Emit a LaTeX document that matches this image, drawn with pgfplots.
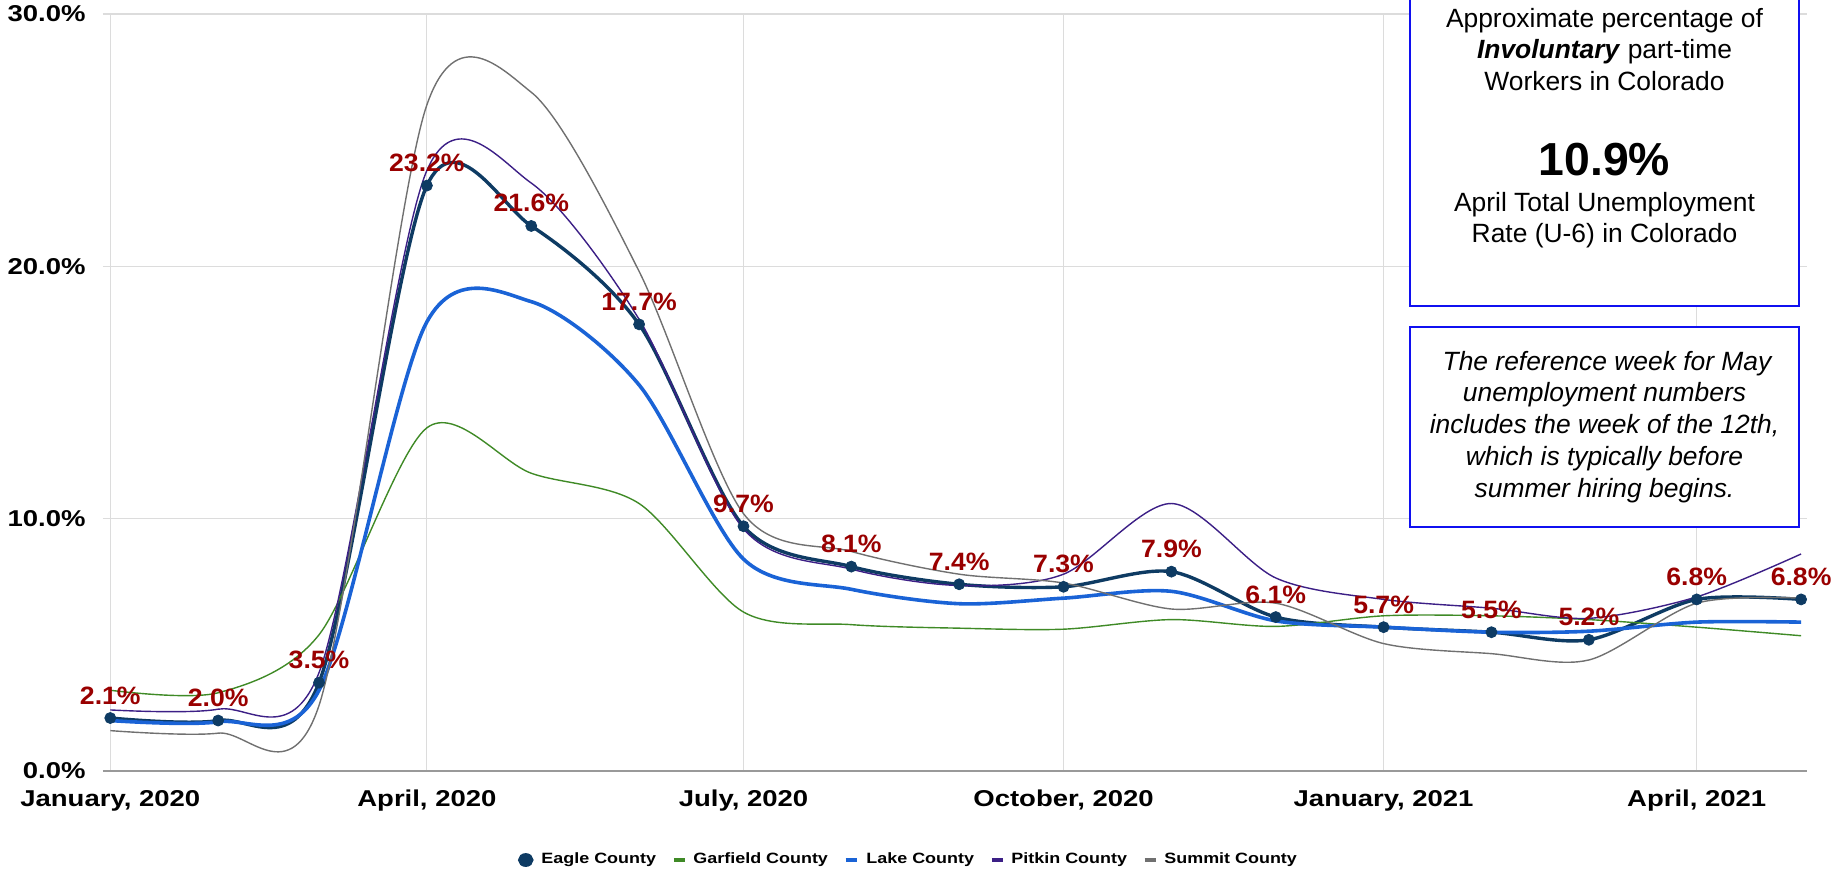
\documentclass[border=0pt]{standalone}
\usepackage{fontspec}
\setmainfont{Liberation Sans}
\newfontfamily\tickfont[FakeStretch=1.2]{Liberation Sans}
\newfontfamily\labfont[FakeStretch=1.06]{Liberation Sans}
\usepackage{pgfplots}
\pgfplotsset{compat=1.18}
\usepackage{pgfplotstable}

\definecolor{eaglec}{HTML}{0E3B63}
\definecolor{garfieldc}{HTML}{3F8A26}
\definecolor{lakec}{HTML}{1A63D6}
\definecolor{pitkinc}{HTML}{3C1F86}
\definecolor{summitc}{HTML}{707070}
\definecolor{labelc}{HTML}{990000}
\definecolor{boxc}{HTML}{1010F0}
\definecolor{gridc}{HTML}{DCDCDC}
\definecolor{axisgray}{HTML}{999999}

\pgfplotstableread{
day eagle garfield lake pitkin summit lab
0   2.1  3.2  2.0  2.42 1.6  2.1
31  2.0  3.1  1.95 2.45 1.5  2.0
60  3.5  5.4  3.2  3.9  2.6  3.5
91  23.2 13.6 17.8 23.8 26.4 23.2
121 21.6 11.8 18.6 23.3 26.9 21.6
152 17.7 10.6 15.3 17.9 19.8 17.7
182 9.7  6.3  8.4  9.6  10.2 9.7
213 8.1  5.8  7.2  8.0  8.7  8.1
244 7.4  5.66 6.63 7.35 7.8  7.4
274 7.3  5.62 6.85 7.8  7.45 7.3
305 7.9  6.0  7.12 10.6 6.42 7.9
335 6.1  5.73 5.95 7.65 6.65 6.1
366 5.7  6.15 5.7  6.8  5.05 5.7
397 5.5  6.15 5.5  6.45 4.65 5.5
425 5.2  6.0  5.54 6.05 4.4  5.2
456 6.8  5.7  5.9  6.9  6.65 6.8
486 6.8  5.36 5.9  8.6  6.85 6.8
}\data

\begin{document}
\begin{tikzpicture}
\useasboundingbox (-51.5bp,-50bp) rectangle (868.5bp,385.5bp);
\begin{axis}[
  at={(0,0)}, anchor=south west,
  scale only axis, width=852bp, height=378.5bp,
  xmin=-2.1, xmax=487.7, ymin=0, ymax=30,
  clip=false,
  axis x line*=bottom, axis y line*=left,
  x axis line style={-, draw=axisgray, line width=1.1bp},
  y axis line style={draw=none},
  major tick length=0pt,
  xtick={0,91,182,274,366,456},
  xticklabels={{January, 2020},{April, 2020},{July, 2020},{October, 2020},{January, 2021},{April, 2021}},
  ytick={0,10,20,30},
  yticklabels={0.0\%,10.0\%,20.0\%,30.0\%},
  xmajorgrids, ymajorgrids,
  grid style={draw=gridc, line width=0.6bp},
  tick label style={font=\tickfont\fontsize{11.5}{13}\selectfont\bfseries, text=black},
  xticklabel style={anchor=base, yshift=-17.9bp},
  yticklabel style={anchor=east, inner sep=0pt, xshift=-8.5bp},
  legend columns=5,
  legend style={at={(0.473,-0.1176)}, anchor=center, draw=none, fill=none,
    font=\tickfont\fontsize{7.5}{9}\selectfont\bfseries,
    nodes={inner sep=1.5bp},
    /tikz/every even column/.append style={column sep=6.5bp}},
]
\addplot[eaglec, line width=1.7bp, smooth, no markers,
  legend image code/.code={\fill[eaglec] (3bp,0bp) ellipse (3bp and 2.6bp); \path (8.5bp,0bp);}]
  table[x=day,y=eagle]{\data};
\addplot[garfieldc, line width=0.7bp, smooth, no markers,
  legend image code/.code={\draw[garfieldc, line width=1.7bp] (0bp,0bp) -- (5.8bp,0bp); \path (8bp,0bp);}]
  table[x=day,y=garfield]{\data};
\addplot[lakec, line width=1.8bp, smooth, no markers,
  legend image code/.code={\draw[lakec, line width=1.7bp] (0bp,0bp) -- (5.8bp,0bp); \path (8bp,0bp);}]
  table[x=day,y=lake]{\data};
\addplot[pitkinc, line width=0.7bp, smooth, no markers,
  legend image code/.code={\draw[pitkinc, line width=1.7bp] (0bp,0bp) -- (5.8bp,0bp); \path (8bp,0bp);}]
  table[x=day,y=pitkin]{\data};
\addplot[summitc, line width=0.7bp, smooth, no markers,
  legend image code/.code={\draw[summitc, line width=1.7bp] (0bp,0bp) -- (5.8bp,0bp); \path (8bp,0bp);}]
  table[x=day,y=summit]{\data};
\legend{Eagle County, Garfield County, Lake County, Pitkin County, Summit County}
\addplot[forget plot, only marks, mark=*, mark size=2.75bp,
  mark options={fill=eaglec, draw=eaglec},
  point meta=explicit symbolic,
  nodes near coords={\pgfplotspointmeta\%},
  nodes near coords style={anchor=base, yshift=7bp, inner sep=0pt,
    font=\labfont\fontsize{12.6}{14}\selectfont\bfseries, text=labelc}]
  table[x=day, y=eagle, meta=lab]{\data};
\end{axis}

\draw[boxc, line width=0.9bp, fill=white] (653.5bp,232.5bp) rectangle (848bp,392bp);
\begin{scope}[every node/.style={anchor=base, inner sep=0pt, font=\fontsize{13.25}{15}\selectfont}]
\node at (750.75bp,371.6bp) {Approximate percentage of};
\node at (750.75bp,356bp) {\textbf{\textit{Involuntary}} part-time};
\node at (750.75bp,340.3bp) {Workers in Colorado};
\node[font=\fontsize{23.25}{26}\selectfont\bfseries] at (750.75bp,297.6bp) {10.9\%};
\node at (750.75bp,279.8bp) {April Total Unemployment};
\node at (750.75bp,264.1bp) {Rate (U-6) in Colorado};
\end{scope}

\draw[boxc, line width=0.9bp, fill=white] (653.5bp,122bp) rectangle (848bp,222bp);
\begin{scope}[every node/.style={anchor=base, inner sep=0pt, font=\fontsize{13.25}{15}\selectfont\itshape}]
\node at (752bp,200.3bp) {The reference week for May};
\node at (750.75bp,184.6bp) {unemployment numbers};
\node at (750.75bp,168.5bp) {includes the week of the 12th,};
\node at (750.75bp,152.5bp) {which is typically before};
\node at (750.75bp,136.8bp) {summer hiring begins.};
\end{scope}
\end{tikzpicture}
\end{document}
